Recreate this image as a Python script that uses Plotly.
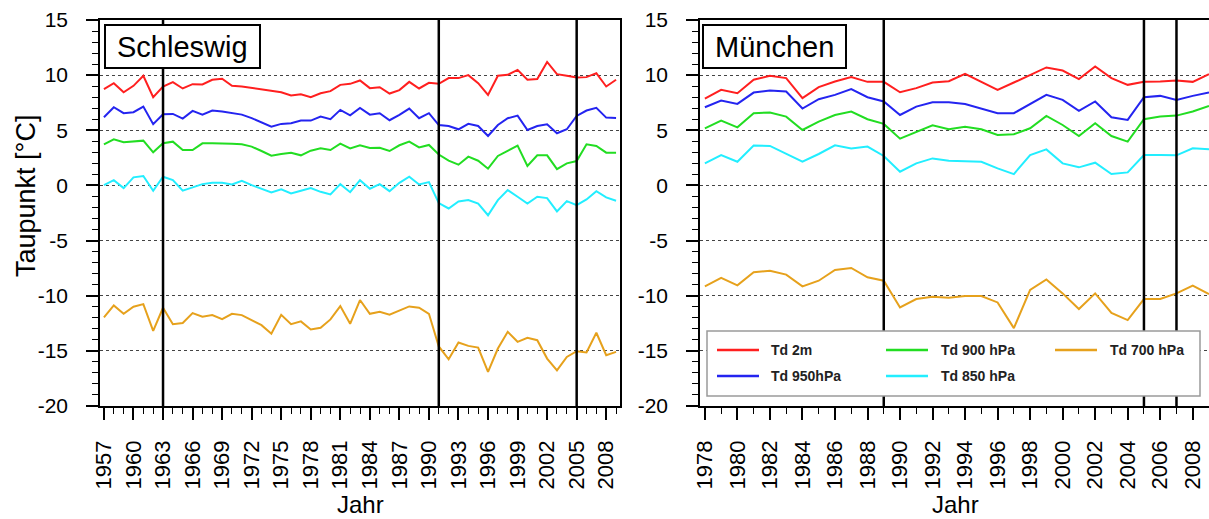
import plotly.graph_objects as go

# ---- data: dew point (Taupunkt) annual means, °C ----
years_schleswig = list(range(1957, 2010))
schleswig_td2m = [8.73, 9.27, 8.45, 9.03, 9.94, 8.0, 8.97, 9.36, 8.79, 9.18, 9.15, 9.58, 9.67, 9.03, 8.97,
                  8.85, 8.7, 8.55, 8.45, 8.15, 8.27, 8.0, 8.36, 8.55, 9.12, 9.21, 9.52, 8.82, 8.9, 8.33,
                  8.64, 9.39, 8.79, 9.3, 9.22,
                  9.73, 9.73, 10.0, 9.27, 8.21, 9.94, 10.03, 10.48, 9.58, 9.64, 11.2, 10.09, 9.94, 9.79,
                  9.82, 10.18, 8.97, 9.58]
schleswig_td950 = [6.18, 7.09, 6.55, 6.64, 7.15, 5.55, 6.45, 6.48, 6.06, 6.76, 6.42, 6.79, 6.70, 6.55, 6.42,
                   6.1, 5.7, 5.33, 5.58, 5.64, 5.88, 5.88, 6.24, 6.0, 6.85, 6.36, 7.03, 6.42, 6.55, 5.91,
                   6.39, 6.97, 6.09, 6.55, 5.47,
                   5.39, 5.09, 5.58, 5.39, 4.48, 5.48, 6.09, 6.33, 5.03, 5.39, 5.55, 4.73, 5.09, 6.3,
                   6.79, 7.03, 6.15, 6.12]
schleswig_td900 = [3.73, 4.18, 3.91, 3.97, 4.06, 3.0, 3.82, 3.97, 3.21, 3.21, 3.82, 3.82, 3.82, 3.79, 3.73,
                   3.52, 3.12, 2.7, 2.85, 2.97, 2.73, 3.15, 3.36, 3.21, 3.79, 3.36, 3.64, 3.39, 3.42, 3.12,
                   3.64, 3.97, 3.45, 3.67, 2.8,
                   2.24, 1.88, 2.61, 2.24, 1.52, 2.67, 3.15, 3.61, 1.76, 2.73, 2.73, 1.48, 2.0, 2.21,
                   3.73, 3.58, 2.97, 2.97]
schleswig_td850 = [0.03, 0.48, -0.24, 0.73, 0.85, -0.48, 0.79, 0.48, -0.48, -0.21, 0.12, 0.24, 0.24, 0.09, 0.42,
                   0.03, -0.33, -0.64, -0.36, -0.73, -0.48, -0.24, -0.58, -0.82, 0.12, -0.61, 0.48, -0.3, 0.12,
                   -0.52, 0.24, 0.79, 0.09, 0.3, -1.6,
                   -2.09, -1.45, -1.33, -1.64, -2.7, -1.33, -0.42, -1.03, -1.64, -1.03, -1.15, -2.36, -1.42,
                   -1.79, -1.27, -0.52, -1.09, -1.39]
schleswig_td700 = [-11.97, -10.88, -11.64, -11.0, -10.76, -13.18, -11.09, -12.58, -12.48, -11.58, -11.91, -11.76,
                   -12.12, -11.64, -11.76,
                   -12.2, -12.67, -13.45, -11.73, -12.58, -12.33, -13.06, -12.91, -12.15, -10.94, -12.55,
                   -10.39, -11.64, -11.45, -11.73, -11.36, -10.97, -11.09, -11.64, -14.6,
                   -15.76, -14.24, -14.55, -14.7, -16.91, -14.79, -13.27, -14.18, -13.82, -14.03, -15.7,
                   -16.76, -15.55, -15.03, -15.15, -13.36, -15.39, -15.09]

years_muenchen = list(range(1978, 2010))
muenchen_td2m = [7.88, 8.67, 8.36, 9.58, 9.94, 9.73, 7.91, 8.91, 9.42, 9.82, 9.39, 9.39, 8.45, 8.82, 9.33, 9.45,
                 10.12, 9.42, 8.67, 9.33, 10.03, 10.7, 10.42, 9.64, 10.79, 9.73, 9.12, 9.39, 9.42, 9.52, 9.39, 10.09]
muenchen_td950 = [7.09, 7.7, 7.39, 8.42, 8.61, 8.52, 6.97, 7.82, 8.21, 8.73, 8.0, 7.61, 6.39, 7.15, 7.55, 7.55,
                  7.39, 7.0, 6.55, 6.55, 7.39, 8.21, 7.76, 6.76, 7.61, 6.18, 5.94, 8.0, 8.12, 7.76, 8.12, 8.42]
muenchen_td900 = [5.18, 5.88, 5.27, 6.55, 6.61, 6.24, 5.03, 5.79, 6.39, 6.7, 6.0, 5.58, 4.24, 4.88, 5.45, 5.09,
                  5.33, 5.09, 4.58, 4.64, 5.18, 6.3, 5.48, 4.48, 5.64, 4.48, 3.97, 6.0, 6.24, 6.33, 6.7, 7.21]
muenchen_td850 = [2.0, 2.76, 2.15, 3.61, 3.58, 2.85, 2.15, 2.85, 3.64, 3.36, 3.52, 2.67, 1.24, 2.0, 2.45, 2.24,
                  2.18, 2.15, 1.55, 1.03, 2.76, 3.27, 2.0, 1.64, 2.06, 1.03, 1.18, 2.76, 2.76, 2.73, 3.36, 3.27]
muenchen_td700 = [-9.15, -8.39, -9.06, -7.88, -7.73, -8.09, -9.15, -8.64, -7.67, -7.48, -8.33, -8.64, -11.06,
                  -10.3, -10.09, -10.18, -10.03, -10.03, -10.61, -12.94, -9.48, -8.52, -9.79, -11.21, -9.79,
                  -11.55, -12.21, -10.3, -10.3, -9.79, -9.09, -9.85]

# years marked by vertical lines in each panel
schleswig_breaks = [1963, 1991, 2005]
muenchen_breaks = [1989, 2005, 2007]

# value-axis ticks (plain hyphen minus in the labels)
y_tick_values = [15, 10, 5, 0, -5, -10, -15, -20]
y_tick_labels = ["15", "10", "5", "0", "-5", "-10", "-15", "-20"]

series_names = ["Td 2m", "Td 950hPa", "Td 900 hPa", "Td 850 hPa", "Td 700 hPa"]
series_colors = ["#ff1f1f", "#2424f0", "#22dd22", "#22eeff", "#e6a11c"]

# ---- figure geometry in pixels ----
W, H = 1209, 519
FONT = "Arial, Liberation Sans, sans-serif"


def fx(p):
    return p / W


def fy(p):
    return 1 - p / H


fig = go.Figure()

schleswig_series = [schleswig_td2m, schleswig_td950, schleswig_td900, schleswig_td850, schleswig_td700]
muenchen_series = [muenchen_td2m, muenchen_td950, muenchen_td900, muenchen_td850, muenchen_td700]

for name, color, vals in zip(series_names, series_colors, schleswig_series):
    fig.add_trace(go.Scatter(x=years_schleswig, y=vals, mode="lines", name=name,
                             line=dict(color=color, width=2), showlegend=False,
                             xaxis="x", yaxis="y"))
for name, color, vals in zip(series_names, series_colors, muenchen_series):
    fig.add_trace(go.Scatter(x=years_muenchen, y=vals, mode="lines", name=name,
                             line=dict(color=color, width=2), showlegend=False,
                             xaxis="x2", yaxis="y2"))

ydom = [fy(406), fy(20)]

common_axis = dict(
    showline=True, linecolor="black", linewidth=1.5, mirror=True,
    ticks="outside", ticklen=12, tickwidth=1.5, tickcolor="black",
    zeroline=False, automargin=False,
)

yaxis_common = dict(
    common_axis,
    range=[-20, 15], tickmode="array", tickvals=y_tick_values, ticktext=y_tick_labels,
    showgrid=True, gridcolor="#444444", griddash="dot", gridwidth=1,
    tickfont=dict(family=FONT, size=21, color="black"),
    ticklabelstandoff=14,
    minor=dict(dtick=1, tick0=0, ticks="outside", ticklen=6, tickwidth=1.2,
               tickcolor="black", showgrid=False),
    domain=ydom,
)

xaxis_common = dict(
    common_axis,
    showgrid=False, tickangle=-90,
    tickfont=dict(family=FONT, size=22, color="black"),
    ticklabelstandoff=12,
)

fig.update_layout(
    width=W, height=H,
    margin=dict(l=0, r=0, t=0, b=0),
    paper_bgcolor="white", plot_bgcolor="white",
    font=dict(family=FONT, color="black"),
    xaxis=dict(xaxis_common, domain=[fx(100), fx(620)], anchor="y",
               range=[1956.6, 2009.4], tickmode="linear", tick0=1957, dtick=3,
               minor=dict(dtick=1, tick0=1957, ticks="outside", ticklen=6, tickwidth=1.2,
                          tickcolor="black", showgrid=False)),
    yaxis=dict(yaxis_common, anchor="x"),
    xaxis2=dict(xaxis_common, domain=[fx(700), 1.0], anchor="y2",
                range=[1977.7, 2009.0], tickmode="linear", tick0=1978, dtick=2,
                minor=dict(dtick=1, tick0=1978, ticks="outside", ticklen=6, tickwidth=1.2,
                           tickcolor="black", showgrid=False)),
    yaxis2=dict(yaxis_common, anchor="x2"),
)

shapes = []
for yr in schleswig_breaks:
    shapes.append(dict(type="line", xref="x", yref="y domain", x0=yr, x1=yr, y0=0, y1=1,
                       line=dict(color="black", width=2.5)))
for yr in muenchen_breaks:
    shapes.append(dict(type="line", xref="x2", yref="y2 domain", x0=yr, x1=yr, y0=0, y1=1,
                       line=dict(color="black", width=2.5)))

# station name boxes
for (x0, x1) in [(105, 260), (703, 846)]:
    shapes.append(dict(type="rect", xref="paper", yref="paper",
                       x0=fx(x0), x1=fx(x1), y0=fy(68), y1=fy(25),
                       line=dict(color="black", width=2), fillcolor="white"))

# legend frame (drawn over the break lines)
shapes.append(dict(type="rect", xref="paper", yref="paper",
                   x0=fx(707), x1=fx(1200), y0=fy(396), y1=fy(331),
                   line=dict(color="#9a9a9a", width=1.5), fillcolor="white"))

annotations = [
    dict(text="Schleswig", x=fx(182.5), y=fy(46.5), xref="paper", yref="paper",
         xanchor="center", yanchor="middle", showarrow=False,
         font=dict(family=FONT, size=29, color="black")),
    dict(text="München", x=fx(774.5), y=fy(46.5), xref="paper", yref="paper",
         xanchor="center", yanchor="middle", showarrow=False,
         font=dict(family=FONT, size=29, color="black")),
    dict(text="Taupunkt [°C]", x=fx(26), y=fy(196), xref="paper", yref="paper",
         xanchor="center", yanchor="middle", textangle=-90, showarrow=False,
         font=dict(family=FONT, size=27, color="black")),
    dict(text="Jahr", x=fx(360), y=fy(504), xref="paper", yref="paper",
         xanchor="center", yanchor="middle", showarrow=False,
         font=dict(family=FONT, size=24, color="black")),
    dict(text="Jahr", x=fx(955), y=fy(504), xref="paper", yref="paper",
         xanchor="center", yanchor="middle", showarrow=False,
         font=dict(family=FONT, size=24, color="black")),
]

# legend entries: (line x0, line x1, text x, row y)
legend_layout = [
    (717, 759, 769, 350),    # Td 2m
    (717, 759, 769, 376),    # Td 950hPa
    (886, 928, 939, 350),    # Td 900 hPa
    (886, 928, 939, 376),    # Td 850 hPa
    (1055, 1097, 1108, 350),  # Td 700 hPa
]
for (lx0, lx1, tx, ry), name, color in zip(legend_layout, series_names, series_colors):
    shapes.append(dict(type="line", xref="paper", yref="paper",
                       x0=fx(lx0), x1=fx(lx1), y0=fy(ry), y1=fy(ry),
                       line=dict(color=color, width=2.5)))
    annotations.append(dict(text="<b>%s</b>" % name, x=fx(tx), y=fy(ry), xref="paper", yref="paper",
                            xanchor="left", yanchor="middle", showarrow=False,
                            font=dict(family=FONT, size=14, color="#222222")))

fig.update_layout(shapes=shapes, annotations=annotations)

fig.write_html("out.html")
